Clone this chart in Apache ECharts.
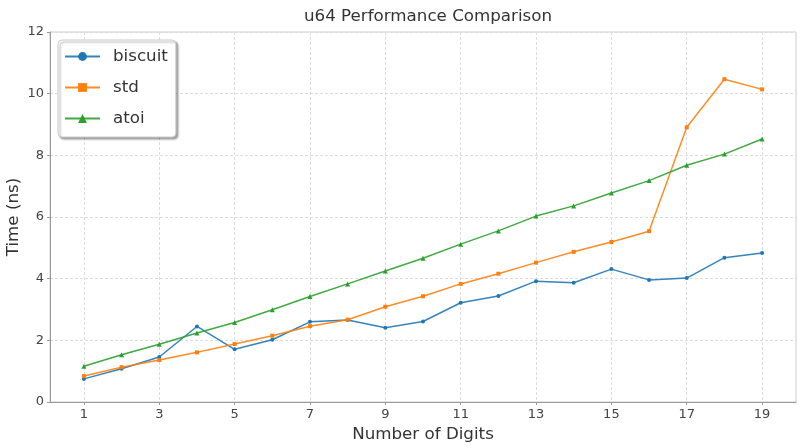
<!DOCTYPE html>
<html>
<head>
<meta charset="utf-8">
<script src="https://cdn.jsdelivr.net/npm/echarts@6/dist/echarts.min.js"></script>
<style>html,body{margin:0;padding:0;background:#fff}#c{width:800px;height:448px}</style>
</head>
<body>
<div id="c"></div>
<script>
const digits = [1,2,3,4,5,6,7,8,9,10,11,12,13,14,15,16,17,18,19];
const biscuit = [0.75,1.08,1.46,2.45,1.71,2.02,2.60,2.66,2.41,2.61,3.22,3.44,3.92,3.87,4.31,3.96,4.02,4.68,4.83];
const stdv = [0.84,1.13,1.36,1.61,1.88,2.15,2.46,2.67,3.09,3.43,3.83,4.16,4.52,4.87,5.19,5.54,8.91,10.47,10.14];
const atoi = [1.16,1.53,1.87,2.24,2.58,2.99,3.42,3.83,4.25,4.66,5.12,5.55,6.03,6.36,6.78,7.18,7.68,8.04,8.53];
const xTicks = [1,3,5,7,9,11,13,15,17,19];

const font = 'DejaVu Sans';
function pairs(arr){ return digits.map((d,i)=>[d,arr[i]]); }
function mk(name, data, color, symbol){
  return {name, type:'line', data:pairs(data), symbol, symbolSize: symbol==='triangle'?5:4,
    itemStyle:{color}, lineStyle:{color, width:1.5, opacity:0.9}, emphasis:{disabled:true}, z:3};
}
const chart = echarts.init(document.getElementById('c'), null, {renderer:'canvas'});
chart.setOption({
  animation:false,
  backgroundColor:'#fff',
  title:{text:'u64 Performance Comparison', left:423, textAlign:'center', top:3,
    textStyle:{fontFamily:font, fontSize:16.7, fontWeight:'normal', color:'#333'}},
  grid:{left:50, right:4, top:32, bottom:46, show:true, borderColor:'#cccccc', borderWidth:1,
    containLabel:false, outerBoundsMode:'none'},
  legend:{left:58, top:40, orient:'vertical', itemWidth:35, itemHeight:11, itemGap:14,
    padding:[8,8,10,6], backgroundColor:'#fff', borderColor:'#cccccc', borderWidth:1, borderRadius:4,
    shadowColor:'rgba(0,0,0,0.35)', shadowOffsetX:2, shadowOffsetY:2, shadowBlur:2,
    textStyle:{fontFamily:font, fontSize:16.7, color:'#333', padding:[0,0,0,8]},
    data:['biscuit','std','atoi']},
  xAxis:{type:'value', min:0.1, max:19.9,
    name:'Number of Digits', nameLocation:'middle', nameGap:24, nameMoveOverlap:false,
    nameTextStyle:{fontFamily:font, fontSize:16.7, color:'#333'},
    axisLine:{show:true, lineStyle:{color:'#999', width:1}},
    axisTick:{show:true, length:3, customValues:xTicks, lineStyle:{color:'#999'}},
    axisLabel:{customValues:xTicks, fontFamily:font, fontSize:13, color:'#444', margin:6},
    splitLine:{show:true, lineStyle:{color:'#dddddd', type:[3,2], width:1}}},
  yAxis:{type:'value', min:0, max:12, interval:2,
    name:'Time (ns)', nameLocation:'middle', nameGap:28, nameRotate:90, nameMoveOverlap:false,
    nameTextStyle:{fontFamily:font, fontSize:16.7, color:'#333'},
    axisLine:{show:true, lineStyle:{color:'#999', width:1}},
    axisTick:{show:true, length:3, lineStyle:{color:'#999'}},
    axisLabel:{fontFamily:font, fontSize:13, color:'#444', margin:6},
    splitLine:{show:true, lineStyle:{color:'#dddddd', type:[3,2], width:1}}},
  series:[
    mk('biscuit', biscuit, '#1f77b4', 'circle'),
    mk('std', stdv, '#ff7f0e', 'rect'),
    mk('atoi', atoi, '#2ca02c', 'triangle')
  ]
});
</script>
</body>
</html>
